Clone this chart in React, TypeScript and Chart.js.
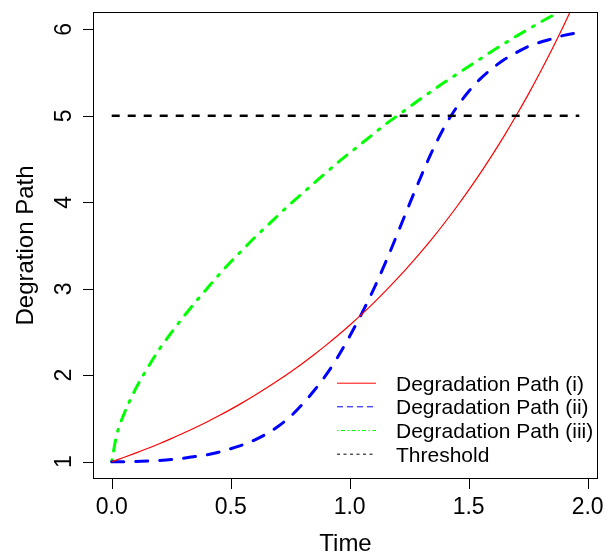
import React, { useEffect, useRef } from "react";
import { Chart, registerables } from "chart.js";

Chart.register(...registerables);

const timeValues = [0, 0.02, 0.05, 0.1, 0.15, 0.2, 0.25, 0.3, 0.35, 0.4, 0.45, 0.5, 0.55, 0.6, 0.65, 0.7, 0.75, 0.8, 0.85, 0.9, 0.95, 1.0, 1.05, 1.1, 1.15, 1.2, 1.25, 1.3, 1.35, 1.4, 1.45, 1.5, 1.55, 1.6, 1.65, 1.7, 1.75, 1.8, 1.85, 1.9, 1.95, 1.965];
const pathI = [1.0, 1.019, 1.048, 1.099, 1.152, 1.208, 1.267, 1.329, 1.393, 1.46, 1.531, 1.605, 1.683, 1.765, 1.851, 1.941, 2.035, 2.133, 2.237, 2.345, 2.459, 2.578, 2.703, 2.834, 2.972, 3.116, 3.267, 3.425, 3.591, 3.766, 3.948, 4.14, 4.34, 4.551, 4.771, 5.003, 5.245, 5.5, 5.766, 6.046, 6.339, 6.43];
const pathII = [1.0, 1.0, 1.0, 1.003, 1.008, 1.015, 1.025, 1.04, 1.06, 1.08, 1.11, 1.15, 1.195, 1.25, 1.32, 1.41, 1.52, 1.66, 1.82, 2.0, 2.21, 2.45, 2.71, 2.99, 3.3, 3.63, 3.97, 4.3, 4.61, 4.88, 5.1, 5.28, 5.43, 5.55, 5.65, 5.73, 5.8, 5.85, 5.89, 5.93, 5.955, 5.96];
const pathIII = [1.0, 1.3, 1.54, 1.84, 2.08, 2.3, 2.49, 2.67, 2.84, 3.0, 3.16, 3.31, 3.45, 3.59, 3.72, 3.85, 3.98, 4.1, 4.22, 4.34, 4.46, 4.57, 4.68, 4.79, 4.9, 5.0, 5.1, 5.2, 5.295, 5.39, 5.48, 5.57, 5.66, 5.75, 5.835, 5.92, 6.0, 6.08, 6.155, 6.23, 6.3, 6.32];
const thresholdValue = 5;
const xTicks = [0, 0.5, 1.0, 1.5, 2.0];
const xTickLabels = ["0.0", "0.5", "1.0", "1.5", "2.0"];
const yTicks = [1, 2, 3, 4, 5, 6];
const yTickLabels = ["1", "2", "3", "4", "5", "6"];
const legendLabels = ["Degradation Path (i)", "Degradation Path (ii)", "Degradation Path (iii)", "Threshold"];
const xTitle = "Time";
const yTitle = "Degration Path";

const FONT = "'Liberation Sans', Arial, Helvetica, sans-serif";

const toPoints = (ys: number[]) => timeValues.map((x, i) => ({ x, y: ys[i] }));

const decorPlugin = {
  id: "rDecor",
  afterDraw(chart: any) {
    const ctx: CanvasRenderingContext2D = chart.ctx;
    const area = chart.chartArea;
    const xs = chart.scales.x;
    const ys = chart.scales.y;
    ctx.save();
    ctx.strokeStyle = "#000";
    ctx.lineWidth = 1;
    ctx.setLineDash([]);
    ctx.strokeRect(Math.round(area.left) + 0.5, Math.round(area.top) + 0.5, Math.round(area.right - area.left) - 1, Math.round(area.bottom - area.top) - 1);
    ctx.fillStyle = "#000";
    ctx.font = `23px ${FONT}`;
    ctx.textAlign = "center";
    ctx.textBaseline = "alphabetic";
    xTicks.forEach((v, i) => {
      const px = Math.round(xs.getPixelForValue(v)) + 0.5;
      ctx.beginPath();
      ctx.moveTo(px, area.bottom);
      ctx.lineTo(px, area.bottom + 10);
      ctx.stroke();
      ctx.fillText(xTickLabels[i], xs.getPixelForValue(v), 514);
    });
    yTicks.forEach((v, i) => {
      const py = Math.round(ys.getPixelForValue(v)) + 0.5;
      ctx.beginPath();
      ctx.moveTo(area.left - 10, py);
      ctx.lineTo(area.left, py);
      ctx.stroke();
      ctx.save();
      ctx.translate(71, ys.getPixelForValue(v));
      ctx.rotate(-Math.PI / 2);
      ctx.fillText(yTickLabels[i], 0, 0);
      ctx.restore();
    });
    ctx.font = `24px ${FONT}`;
    ctx.fillText(xTitle, (area.left + area.right) / 2, 551);
    ctx.save();
    ctx.translate(33, (area.top + area.bottom) / 2);
    ctx.rotate(-Math.PI / 2);
    ctx.fillText(yTitle, 0, 0);
    ctx.restore();
    const styles = [
      { color: "#FF0000", dash: [] as number[] },
      { color: "#0000FF", dash: [6, 4] },
      { color: "#00FF00", dash: [1.5, 2.5, 4, 2.5] },
      { color: "#000000", dash: [3, 3.5] },
    ];
    ctx.font = `21px ${FONT}`;
    ctx.textAlign = "left";
    const baselines = [390.7, 414.3, 438, 461.7];
    legendLabels.forEach((label, i) => {
      const yLine = baselines[i] - 7.5;
      ctx.strokeStyle = styles[i].color;
      ctx.setLineDash(styles[i].dash);
      ctx.lineWidth = 1;
      ctx.beginPath();
      ctx.moveTo(337, yLine);
      ctx.lineTo(376, yLine);
      ctx.stroke();
      ctx.setLineDash([]);
      ctx.fillStyle = "#000";
      ctx.fillText(label, 396, baselines[i]);
    });
    ctx.restore();
  },
};

export default function App() {
  const canvasRef = useRef<HTMLCanvasElement | null>(null);

  useEffect(() => {
    document.body.style.margin = "0";
    const canvas = canvasRef.current;
    if (!canvas) return;
    const chart = new Chart(canvas, {
      type: "line",
      data: {
        datasets: [
          {
            label: legendLabels[3],
            data: [
              { x: timeValues[0], y: thresholdValue },
              { x: timeValues[timeValues.length - 1], y: thresholdValue },
            ],
            borderColor: "#000000",
            borderWidth: 2.5,
            borderDash: [8, 8],
            pointRadius: 0,
            clip: 0,
          },
          {
            label: legendLabels[0],
            data: toPoints(pathI),
            borderColor: "#FF0000",
            borderWidth: 1.2,
            pointRadius: 0,
            cubicInterpolationMode: "monotone",
            clip: 0,
          },
          {
            label: legendLabels[1],
            data: toPoints(pathII),
            borderColor: "#0000FF",
            borderWidth: 3,
            borderDash: [12, 12],
            borderCapStyle: "round",
            pointRadius: 0,
            cubicInterpolationMode: "monotone",
            clip: 0,
          },
          {
            label: legendLabels[2],
            data: toPoints(pathIII),
            borderColor: "#00FF00",
            borderWidth: 3,
            borderDash: [2, 9, 11, 9],
            borderCapStyle: "round",
            pointRadius: 0,
            cubicInterpolationMode: "monotone",
            clip: 0,
          },
        ],
      },
      options: {
        animation: false,
        responsive: false,
        events: [],
        layout: { padding: { left: 93, right: 8, top: 12, bottom: 75 } },
        plugins: { legend: { display: false }, tooltip: { enabled: false } },
        scales: {
          x: { type: "linear", min: -0.0786, max: 2.0436, display: false },
          y: { type: "linear", min: 0.8, max: 6.2, display: false },
        },
      },
      plugins: [decorPlugin],
    });
    return () => chart.destroy();
  }, []);

  return (
    <div style={{ width: 606, height: 554, background: "#fff" }}>
      <canvas ref={canvasRef} width={606} height={554} style={{ display: "block" }} />
    </div>
  );
}
